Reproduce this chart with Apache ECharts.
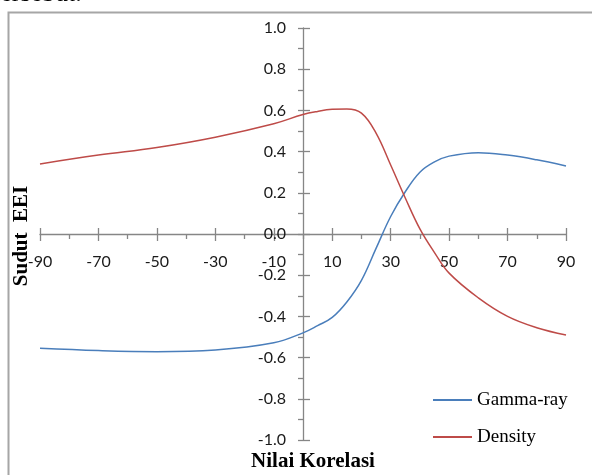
<!DOCTYPE html>
<html><head><meta charset="utf-8">
<script src="https://cdn.jsdelivr.net/npm/echarts@6/dist/echarts.min.js"></script>
<style>html,body{margin:0;padding:0;background:#fff}#c{width:592px;height:475px}</style>
</head><body><div id="c"></div>
<script>
var xValues = [-90,-70,-50,-30,-10,0,5,10,15,20,25,30,35,40,45,50,60,70,80,90];
var gammaRay = [-0.555,-0.566,-0.571,-0.563,-0.528,-0.48,-0.445,-0.405,-0.33,-0.225,-0.07,0.085,0.205,0.30,0.35,0.378,0.395,0.383,0.36,0.33];
var density = [0.34,0.383,0.42,0.47,0.535,0.58,0.595,0.605,0.607,0.587,0.49,0.335,0.175,0.025,-0.09,-0.19,-0.31,-0.40,-0.455,-0.49];
var seriesNames = ['Gamma-ray','Density'];
var xTitle = 'Nilai Korelasi';
var yTitle = 'Sudut  EEI';
var xMin = -90, xMax = 90, xStep = 20;
var yMin = -1, yMax = 1, yStep = 0.2;

function pairs(ys){ return xValues.map(function(x,i){ return [x, ys[i]]; }); }

var W = 592, H = 475;
var grid = { left: 40, right: 26, top: 28, bottom: 35 };
var gridW = W - grid.left - grid.right, gridH = H - grid.top - grid.bottom;
// place the axes through the origin (computed from the scales)
var xAxisOffset = -gridH * (0 - yMin) / (yMax - yMin);   // bottom axis moved up to y = 0
var yAxisOffset = -gridW * (0 - xMin) / (xMax - xMin);   // left axis moved right to x = 0

var axisGray = '#868686';
var labelFont = 'Lato';
var tickStyle = { color: axisGray, width: 1.3 };
var chart = echarts.init(document.getElementById('c'));
chart.setOption({
  animation: false,
  backgroundColor: '#fff',
  grid: { left: grid.left, right: grid.right, top: grid.top, bottom: grid.bottom, containLabel: false, outerBoundsMode: 'none' },
  xAxis: [{
    type: 'value', min: xMin, max: xMax, interval: xStep, position: 'bottom', offset: xAxisOffset,
    axisLine: { onZero: false, lineStyle: tickStyle },
    axisTick: { show: true, inside: false, length: 7, lineStyle: tickStyle },
    minorTick: { show: true, splitNumber: 2, length: 5, lineStyle: tickStyle },
    splitLine: { show: false },
    axisLabel: { show: true, margin: 20, fontFamily: labelFont, fontSize: 16, color: '#1a1a1a', showMinLabel: true, showMaxLabel: true }
  }, {
    type: 'value', min: xMin, max: xMax, interval: xStep, position: 'top', offset: -gridH - xAxisOffset,
    axisLine: { show: false, onZero: false },
    axisTick: { show: true, inside: false, length: 6, lineStyle: tickStyle },
    splitLine: { show: false }, axisLabel: { show: false }
  }],
  yAxis: [{
    type: 'value', min: yMin, max: yMax, interval: yStep, position: 'left', offset: yAxisOffset,
    axisLine: { show: true, onZero: false, lineStyle: tickStyle },
    axisTick: { show: true, inside: false, length: 5, lineStyle: tickStyle },
    minorTick: { show: true, splitNumber: 2, length: 5, lineStyle: tickStyle },
    splitLine: { show: false },
    axisLabel: { margin: 17, fontFamily: labelFont, fontSize: 16, color: '#1a1a1a', formatter: function(v){ return v.toFixed(1); } }
  }, {
    type: 'value', min: yMin, max: yMax, interval: yStep, position: 'right', offset: -gridW - yAxisOffset,
    axisLine: { show: false, onZero: false },
    axisTick: { show: true, inside: false, length: 7, lineStyle: tickStyle },
    splitLine: { show: false }, axisLabel: { show: false }
  }],
  legend: {
    orient: 'vertical', left: 433, top: 390, padding: 0, itemWidth: 39, itemHeight: 2, itemGap: 17, icon: 'rect',
    data: seriesNames,
    textStyle: { fontFamily: 'Liberation Serif', fontSize: 19, color: '#000', lineHeight: 20 }
  },
  series: [{
    name: seriesNames[0], type: 'line', data: pairs(gammaRay), smooth: 0.4, symbol: 'none',
    xAxisIndex: 0, yAxisIndex: 0,
    lineStyle: { color: '#4A7EBB', width: 1.5 }, itemStyle: { color: '#4A7EBB' }
  }, {
    name: seriesNames[1], type: 'line', data: pairs(density), smooth: 0.4, symbol: 'none',
    xAxisIndex: 0, yAxisIndex: 0,
    lineStyle: { color: '#BE4B48', width: 1.5 }, itemStyle: { color: '#BE4B48' }
  }],
  graphic: [
    { type: 'rect', shape: { x: 8.5, y: 12.5, width: 640, height: 520 }, style: { fill: 'none', stroke: '#a6a6a6', lineWidth: 2 }, silent: true },
    { type: 'text', x: -7, y: 7, style: { text: 'tersebut.', font: '26px "Liberation Serif"', fill: '#000', textVerticalAlign: 'bottom' } },
    { type: 'text', x: 313, y: 462, style: { text: xTitle, font: 'bold 21px "Liberation Serif"', fill: '#000', textAlign: 'center', textVerticalAlign: 'middle' } },
    { type: 'text', x: 22, y: 236, rotation: Math.PI / 2, style: { text: yTitle, font: 'bold 21px "Liberation Serif"', fill: '#000', textAlign: 'center', textVerticalAlign: 'middle' } }
  ]
});
</script></body></html>
